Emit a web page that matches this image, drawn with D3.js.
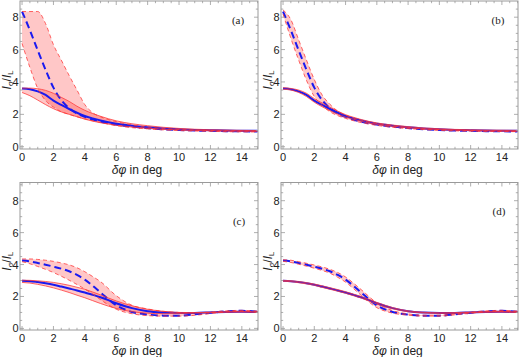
<!DOCTYPE html>
<html><head><meta charset="utf-8">
<script src="https://cdn.jsdelivr.net/npm/d3@7"></script>
<style>body{margin:0;background:#fff}svg{display:block}</style>
</head><body>
<script>
// ---- data ----
const xs = [0,0.5,1,1.5,2,2.5,3,3.5,4,4.5,5,6,7,8,9,10,11,12,13,14,15];
const xTicks = [0,2,4,6,8,10,12,14];
const yTicks = [0,2,4,6,8];
const panelLabels = ["(a)","(b)","(c)","(d)"];

const solidAB = [3.6,3.55,3.42,3.2,2.85,2.58,2.33,2.1,1.9,1.75,1.62,1.42,1.3,1.2,1.13,1.08,1.04,1.02,1.0,0.99,0.98];
const dashAB  = [8.35,7.2,5.95,4.75,3.65,2.88,2.38,2.05,1.84,1.68,1.55,1.37,1.24,1.15,1.08,1.03,1.0,0.98,0.96,0.95,0.94];
const solidCD = [2.98,2.96,2.9,2.83,2.74,2.62,2.5,2.38,2.25,2.1,1.95,1.58,1.27,1.07,0.99,0.96,0.97,1.0,1.03,1.04,1.02];
const dashCD  = [4.25,4.2,4.1,3.99,3.87,3.74,3.58,3.35,3.06,2.67,2.25,1.45,1.03,0.87,0.8,0.8,0.88,0.98,1.07,1.1,1.05];

const aSolidHi = [3.62,3.62,3.58,3.48,3.3,3.05,2.8,2.5,2.25,2.05,1.88,1.6,1.42,1.3,1.2,1.13,1.08,1.05,1.03,1.01,1.0];
const aSolidLo = [3.35,3.15,2.88,2.6,2.35,2.15,2.0,1.85,1.7,1.58,1.48,1.33,1.22,1.14,1.08,1.04,1.01,0.99,0.97,0.96,0.95];
const aDashHi  = [8.35,8.35,8.35,7.6,6.3,5.35,4.4,3.5,2.6,2.1,1.85,1.55,1.35,1.22,1.12,1.07,1.03,1.0,0.99,0.98,0.97];
const aDashLo  = [6.38,4.9,3.6,2.85,2.45,2.16,2.0,1.85,1.72,1.6,1.5,1.3,1.18,1.1,1.04,1.0,0.97,0.95,0.93,0.92,0.91];

const bSolidHi = [3.65,3.6,3.5,3.3,2.97,2.7,2.44,2.2,1.98,1.82,1.68,1.47,1.34,1.24,1.16,1.11,1.07,1.05,1.03,1.02,1.01];
const bSolidLo = [3.55,3.5,3.35,3.1,2.75,2.47,2.23,2.01,1.83,1.7,1.57,1.38,1.26,1.17,1.1,1.06,1.03,1.0,0.98,0.97,0.96];
const bDashHi  = [8.45,7.85,6.6,5.35,4.15,3.2,2.62,2.2,1.95,1.77,1.63,1.43,1.29,1.19,1.11,1.06,1.02,1.0,0.98,0.97,0.96];
const bDashLo  = [8.2,6.7,5.35,4.1,3.1,2.55,2.16,1.92,1.75,1.61,1.49,1.32,1.2,1.12,1.06,1.01,0.98,0.96,0.95,0.94,0.93];

const cSolidHi = [3.02,3.01,2.98,2.94,2.88,2.8,2.7,2.58,2.45,2.28,2.1,1.72,1.42,1.2,1.07,1.0,0.99,1.01,1.04,1.05,1.04];
const cSolidLo = [2.88,2.84,2.76,2.66,2.54,2.4,2.25,2.08,1.92,1.74,1.56,1.25,1.05,0.95,0.92,0.93,0.96,0.99,1.02,1.03,1.0];
const cDashHi  = [4.35,4.35,4.32,4.27,4.2,4.1,3.98,3.8,3.55,3.25,2.93,2.05,1.45,1.22,1.07,1.0,0.98,1.02,1.1,1.13,1.08];
const cDashLo  = [4.18,4.05,3.88,3.7,3.5,3.27,3.02,2.75,2.46,2.15,1.8,1.2,0.92,0.8,0.77,0.77,0.82,0.93,1.03,1.07,1.02];

const dSolidHi = [3.01,2.99,2.94,2.87,2.78,2.67,2.55,2.43,2.3,2.15,2.0,1.63,1.31,1.1,1.01,0.98,0.99,1.02,1.05,1.06,1.04];
const dSolidLo = [2.95,2.93,2.86,2.79,2.7,2.57,2.45,2.33,2.2,2.05,1.9,1.53,1.23,1.04,0.97,0.94,0.95,0.98,1.01,1.02,1.0];
const dDashHi  = [4.3,4.27,4.18,4.08,3.97,3.85,3.7,3.5,3.22,2.84,2.43,1.6,1.12,0.91,0.83,0.83,0.91,1.01,1.1,1.13,1.08];
const dDashLo  = [4.2,4.13,4.02,3.9,3.77,3.63,3.46,3.2,2.9,2.5,2.07,1.3,0.96,0.83,0.77,0.77,0.85,0.95,1.04,1.07,1.02];

// ---- layout ----
const W = 521, H = 357;
const panels = [
  {label: panelLabels[0], solid: solidAB, dash: dashAB, sHi: aSolidHi, sLo: aSolidLo, dHi: aDashHi, dLo: aDashLo,
   f: {x0: 20, x1: 258, y0: 1, y1: 149}, yDom: [-0.14, 9.0], lab: [238, 20]},
  {label: panelLabels[1], solid: solidAB, dash: dashAB, sHi: bSolidHi, sLo: bSolidLo, dHi: bDashHi, dLo: bDashLo,
   f: {x0: 281, x1: 518, y0: 1, y1: 149}, yDom: [-0.14, 9.0], lab: [498, 20]},
  {label: panelLabels[2], solid: solidCD, dash: dashCD, sHi: cSolidHi, sLo: cSolidLo, dHi: cDashHi, dLo: cDashLo,
   f: {x0: 20, x1: 258, y0: 182.5, y1: 330}, yDom: [-0.1, 9.14], lab: [239, 221]},
  {label: panelLabels[3], solid: solidCD, dash: dashCD, sHi: dSolidHi, sLo: dSolidLo, dHi: dDashHi, dLo: dDashLo,
   f: {x0: 281, x1: 518, y0: 182.5, y1: 330}, yDom: [-0.1, 9.14], lab: [499, 211]}
];

const svg = d3.select("body").append("svg").attr("width", W).attr("height", H);
const BLUE = "#1a1af0", RED = "#ff3434", FRAME = "#9a9a9a";

panels.forEach((p, i) => {
  const f = p.f;
  const x = d3.scaleLinear().domain([-0.13, 15.03]).range([f.x0, f.x1]);
  const y = d3.scaleLinear().domain(p.yDom).range([f.y1, f.y0]);
  const g = svg.append("g");
  const cid = "clip" + i;
  svg.append("clipPath").attr("id", cid).append("rect")
    .attr("x", f.x0).attr("y", f.y0).attr("width", f.x1 - f.x0).attr("height", f.y1 - f.y0);
  const plot = g.append("g").attr("clip-path", `url(#${cid})`);

  const pts = arr => xs.map((v, k) => [v, arr[k]]);
  const line = d3.line().x(d => x(d[0])).y(d => y(d[1])).curve(d3.curveMonotoneX);
  const area = d3.area().x(d => x(d[0])).y0(d => y(d[1])).y1(d => y(d[2])).curve(d3.curveMonotoneX);
  const band = (lo, hi) => xs.map((v, k) => [v, lo[k], hi[k]]);

  // fills
  [[p.sLo, p.sHi], [p.dLo, p.dHi]].forEach(([lo, hi]) => {
    plot.append("path").attr("d", area(band(lo, hi)))
      .attr("fill", "rgb(255,0,0)").attr("fill-opacity", 0.22).attr("stroke", "none");
  });
  // blue center lines
  plot.append("path").attr("d", line(pts(p.solid))).attr("fill", "none")
    .attr("stroke", BLUE).attr("stroke-width", 2);
  plot.append("path").attr("d", line(pts(p.dash))).attr("fill", "none")
    .attr("stroke", BLUE).attr("stroke-width", 2).attr("stroke-dasharray", "7,4");
  // red bounds
  [p.sLo, p.sHi].forEach(arr => plot.append("path").attr("d", line(pts(arr))).attr("fill", "none")
    .attr("stroke", RED).attr("stroke-width", 0.9).attr("stroke-opacity", 0.85));
  [p.dLo, p.dHi].forEach(arr => plot.append("path").attr("d", line(pts(arr))).attr("fill", "none")
    .attr("stroke", RED).attr("stroke-width", 0.9).attr("stroke-opacity", 0.85).attr("stroke-dasharray", "4,3"));

  // frame
  g.append("rect").attr("x", f.x0).attr("y", f.y0).attr("width", f.x1 - f.x0).attr("height", f.y1 - f.y0)
    .attr("fill", "none").attr("stroke", FRAME).attr("stroke-width", 1);

  // ticks
  const tk = g.append("g").attr("stroke", FRAME).attr("stroke-width", 0.8);
  d3.range(0, 15.01, 0.5).forEach(v => {
    const major = Math.abs(v / 2 - Math.round(v / 2)) < 1e-6;
    const len = major ? 4 : 2.2;
    const X = x(v);
    tk.append("line").attr("x1", X).attr("x2", X).attr("y1", f.y1).attr("y2", f.y1 - len);
    tk.append("line").attr("x1", X).attr("x2", X).attr("y1", f.y0).attr("y2", f.y0 + len);
  });
  d3.range(0, 9.01, 0.5).forEach(v => {
    const major = Math.abs(v / 2 - Math.round(v / 2)) < 1e-6;
    const len = major ? 4 : 2.2;
    const Y = y(v);
    if (Y < f.y0 + 0.5) return;
    tk.append("line").attr("y1", Y).attr("y2", Y).attr("x1", f.x0).attr("x2", f.x0 + len);
    tk.append("line").attr("y1", Y).attr("y2", Y).attr("x1", f.x1).attr("x2", f.x1 - len);
  });

  // tick labels
  const tl = g.append("g").attr("font-family", "Liberation Sans, Arial, sans-serif")
    .attr("font-size", 11).attr("fill", "#222");
  xTicks.forEach(v => tl.append("text").attr("x", x(v)).attr("y", f.y1 + 11.5)
    .attr("text-anchor", "middle").text(v));
  yTicks.forEach(v => tl.append("text").attr("x", f.x0 - 1.5).attr("y", y(v) + 4)
    .attr("text-anchor", "end").text(v));

  // axis titles
  const xt = g.append("text").attr("x", (f.x0 + f.x1) / 2 - 2).attr("y", f.y1 + 25)
    .attr("text-anchor", "middle").attr("font-family", "Liberation Sans, Arial, sans-serif")
    .attr("font-size", 12).attr("fill", "#222");
  xt.append("tspan").attr("font-style", "italic").text("δφ");
  xt.append("tspan").text(" in deg");

  const cy = (f.y0 + f.y1) / 2 + 5, cx = f.x0 - 9.5;
  const yt = g.append("text").attr("transform", `translate(${cx},${cy}) rotate(-90)`)
    .attr("text-anchor", "middle").attr("font-family", "Liberation Sans, Arial, sans-serif")
    .attr("font-size", 12).attr("fill", "#222");
  yt.append("tspan").attr("font-style", "italic").text("I");
  yt.append("tspan").attr("font-size", 7.5).attr("dy", 2).text("σ");
  yt.append("tspan").attr("dy", -2).text("/");
  yt.append("tspan").attr("font-style", "italic").text("I");
  yt.append("tspan").attr("font-size", 7.5).attr("dy", 2).text("L");

  // panel label
  g.append("text").attr("x", p.lab[0]).attr("y", p.lab[1] + 4).attr("text-anchor", "middle")
    .attr("font-family", "Liberation Serif, Times New Roman, serif").attr("font-size", 11)
    .attr("fill", "#222").text(p.label);
});
</script>
</body></html>
